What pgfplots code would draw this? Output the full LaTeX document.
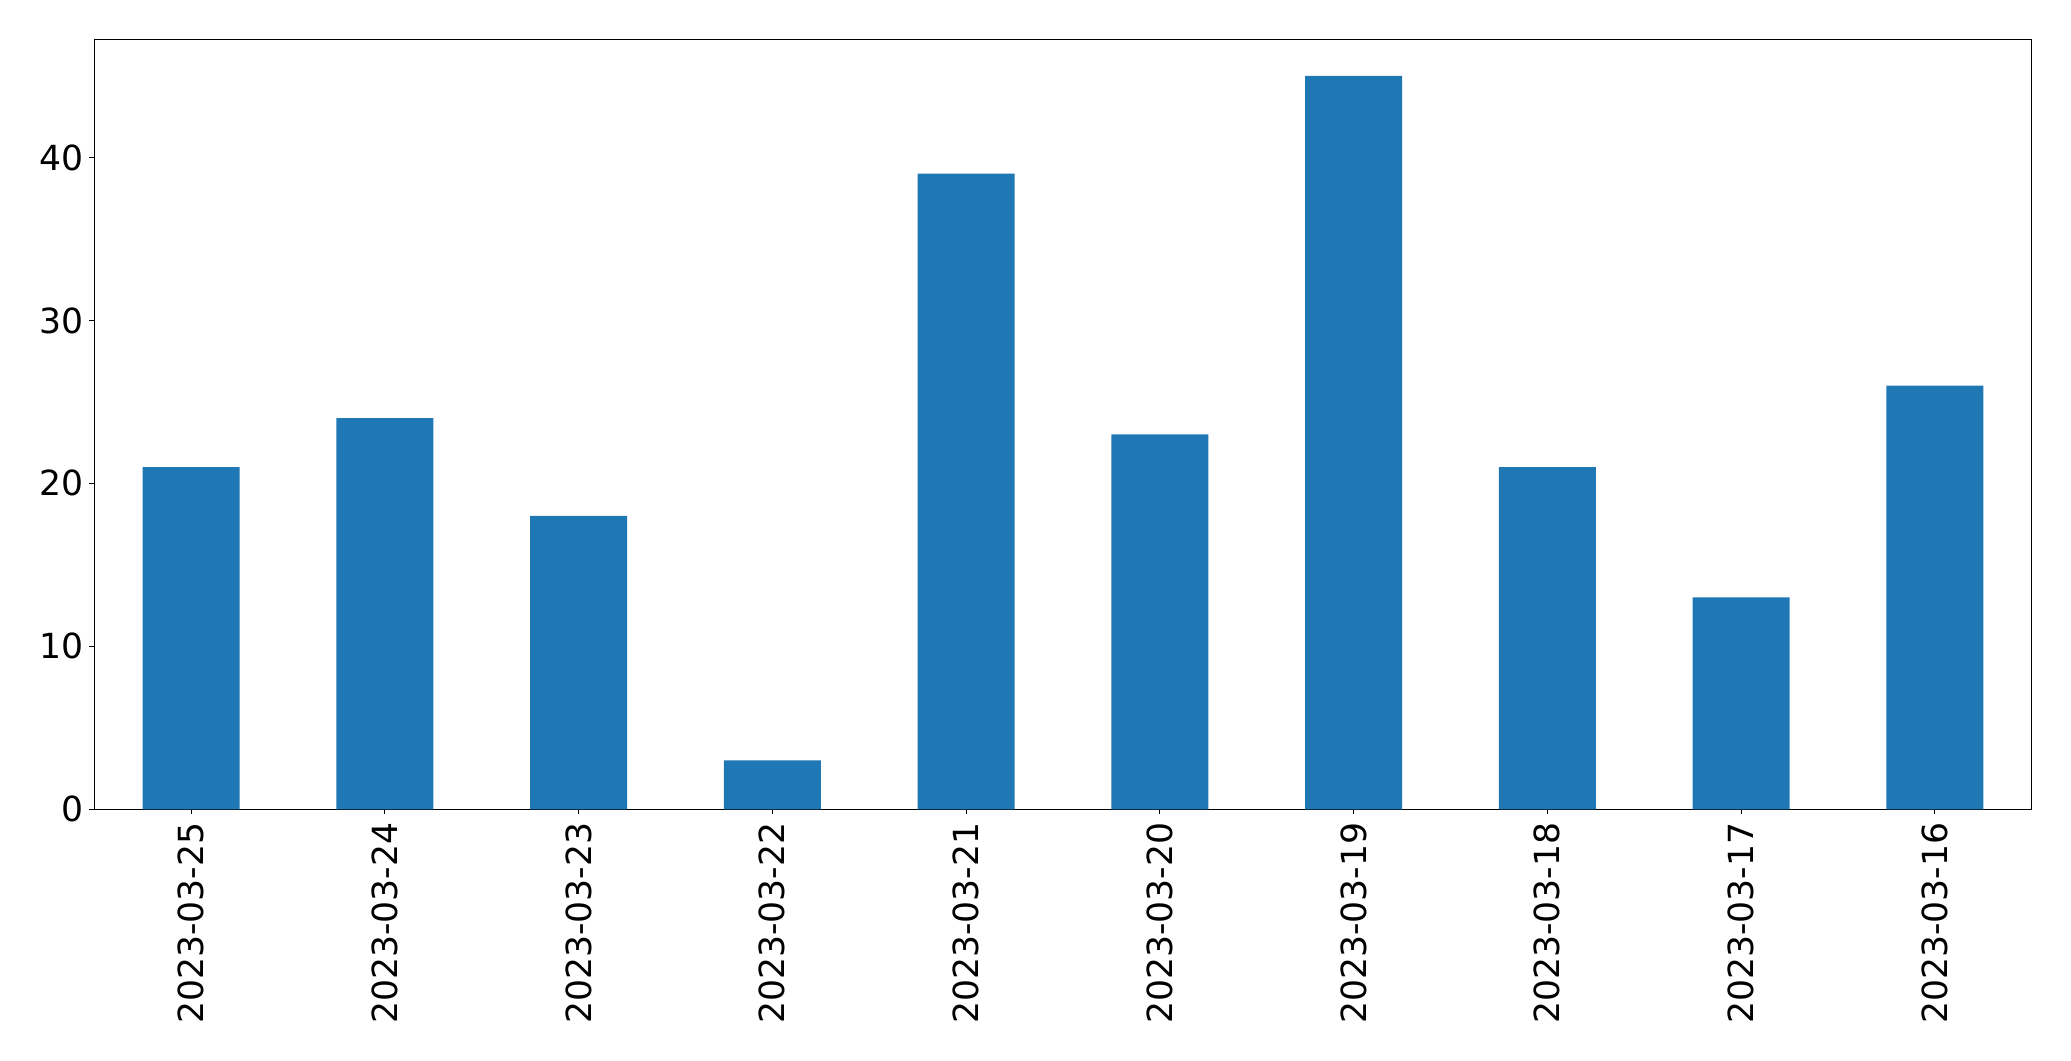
\documentclass[border=0pt]{standalone}
\usepackage{pgfplots}
\pgfplotsset{compat=1.18}
\usepackage{fontspec}
\setmainfont{DejaVu Sans}
\definecolor{barblue}{HTML}{1F77B4}
\begin{document}
\fontsize{17.3pt}{21pt}\selectfont
\begin{tikzpicture}
\begin{axis}[
  name=ax,
  scale only axis,
  width=968.7pt, height=385pt,
  xmin=-0.5, xmax=9.5,
  ymin=0, ymax=47.25,
  xtick={0,1,2,3,4,5,6,7,8,9},
  xticklabels={2023-03-25,2023-03-24,2023-03-23,2023-03-22,2023-03-21,2023-03-20,2023-03-19,2023-03-18,2023-03-17,2023-03-16},
  ytick={0,10,20,30,40},
  tick align=outside,
  major tick length=2.5pt,
  tick pos=left,
  axis line style={line width=0.55pt},
  every tick/.style={black, line width=0.55pt},
  /pgf/number format/assume math mode=true,
  tick label style={font=\fontsize{17.3pt}{21pt}\selectfont},
  xticklabel shift=4pt,
  yticklabel shift=2.6pt,
  xticklabel style={rotate=90, anchor=east, inner sep=0pt},
  yticklabel style={anchor=east, inner sep=0pt},
  ybar, bar width=0.5, bar shift=0pt,
]
\addplot[fill=barblue, draw=none] coordinates {
  (0,21) (1,24) (2,18) (3,3) (4,39) (5,23) (6,45) (7,21) (8,13) (9,26)
};
\end{axis}
\pgfresetboundingbox
\path ([xshift=-47.15pt, yshift=-125.85pt]ax.south west) rectangle ([xshift=19.65pt, yshift=19.65pt]ax.north east);
\end{tikzpicture}
\end{document}
